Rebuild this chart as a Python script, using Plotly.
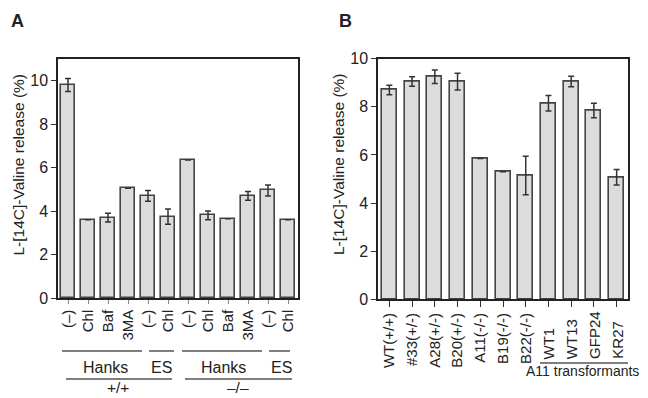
import plotly.graph_objects as go

# page has an 8px body margin; the figure is sized so it ends at the window edge
OFF = 8
W, H = 648 - OFF, 398 - OFF

# ---------------- data ----------------
a_labels = ["(–)", "Chl", "Baf", "3MA", "(–)", "Chl", "(–)", "Chl", "Baf", "3MA", "(–)", "Chl"]
a_values = [9.8, 3.6, 3.7, 5.05, 4.7, 3.75, 6.35, 3.8, 3.65, 4.7, 4.95, 3.6]
a_errors = [0.3, 0, 0.2, 0, 0.25, 0.35, 0, 0.2, 0, 0.2, 0.25, 0]

b_labels = ["WT(+/+)", "#33(+/-)", "A28(+/-)", "B20(+/-)", "A11(-/-)", "B19(-/-)", "B22(-/-)",
            "WT1", "WT13", "GFP24", "KR27"]
b_values = [8.7, 9.05, 9.25, 9.05, 5.85, 5.3, 5.15, 8.15, 9.05, 7.85, 5.07]
b_errors = [0.2, 0.2, 0.28, 0.35, 0, 0, 0.8, 0.32, 0.22, 0.3, 0.32]
b_transformants = ["WT1", "WT13", "GFP24", "KR27"]

y_title = "L-[14C]-Valine release (%)"

# ---------------- helpers (window pixel -> paper fraction) ----------------
def fx(px):
    return (px - OFF) / W

def fy(py):
    return 1 - (py - OFF) / H

FONT = "Liberation Sans, Arial, sans-serif"
BAR_FILL = "#dcdcdc"
BAR_LINE = "#444444"
TXT = "#222222"

fig = go.Figure()

def err_cfg(errs):
    return dict(type="data", array=errs, visible=True, color="#333333",
                thickness=1.5, width=3)

fig.add_trace(go.Bar(
    x=list(range(len(a_values))), y=a_values, error_y=err_cfg(a_errors),
    width=0.72, marker=dict(color=BAR_FILL, line=dict(color=BAR_LINE, width=1.6)),
    xaxis="x", yaxis="y", showlegend=False))

b_ticktext = [t if t not in b_transformants else "" for t in b_labels]
fig.add_trace(go.Bar(
    x=list(range(len(b_values))), y=b_values, error_y=err_cfg(b_errors),
    width=0.66, marker=dict(color=BAR_FILL, line=dict(color=BAR_LINE, width=1.6)),
    xaxis="x2", yaxis="y2", showlegend=False))

axis_common = dict(showline=True, linecolor="#222222", linewidth=1.5, mirror=True,
                   showgrid=False, zeroline=False, automargin=False)
xfont = dict(family=FONT, size=15, color=TXT)
yfont = dict(family=FONT, size=16, color=TXT)

fig.update_layout(
    width=W, height=H, margin=dict(l=0, r=0, t=0, b=0, autoexpand=False),
    paper_bgcolor="white", plot_bgcolor="white",
    bargap=0,
    xaxis=dict(domain=[fx(58), fx(298)], range=[-0.5, 11.5], anchor="y",
               tickmode="array", tickvals=list(range(len(a_labels))), ticktext=a_labels,
               tickangle=-90, ticks="outside", ticklen=4, tickcolor="#888888",
               tickfont=xfont, **axis_common),
    yaxis=dict(domain=[fy(298), fy(59)], range=[0, 11], anchor="x",
               tickvals=[0, 2, 4, 6, 8, 10], ticks="outside", ticklen=5, tickcolor="#333333",
               tickfont=yfont, **axis_common),
    xaxis2=dict(domain=[fx(378), fx(628)], range=[-0.5, 10.5], anchor="y2",
                tickmode="array", tickvals=list(range(len(b_labels))), ticktext=b_ticktext,
                tickangle=-90, ticks="outside", ticklen=6, tickcolor="#333333",
                tickfont=xfont, **axis_common),
    yaxis2=dict(domain=[fy(299.3), fy(58.7)], range=[0, 10], anchor="x2",
                tickvals=[0, 2, 4, 6, 8, 10], ticks="outside", ticklen=5, tickcolor="#333333",
                tickfont=yfont, **axis_common),
)

ann = []
def add_text(txt, x, y, size, xanchor="center", yanchor="middle", angle=0, xref="paper"):
    ann.append(dict(text=txt, x=x, y=y, xref=xref, yref="paper", textangle=angle,
                    xanchor=xanchor, yanchor=yanchor, showarrow=False,
                    font=dict(family=FONT, size=size, color=TXT)))

# panel labels
add_text("<b>A</b>", fx(17), fy(21), 18)
add_text("<b>B</b>", fx(345), fy(21), 18)
# y titles
add_text(y_title, fx(18), fy(165.5), 15.5, angle=-90)
add_text(y_title, fx(338), fy(165), 15.5, angle=-90)

# group labels panel A
for txt, xc, yc in [("Hanks", 105, 367), ("ES", 161, 367), ("Hanks", 223, 367),
                    ("ES", 281, 367)]:
    add_text(txt, fx(xc), fy(yc), 16)
for txt, xc in [("+/+", 118), ("–/–", 238)]:
    add_text(txt, fx(xc), fy(397.5), 15.5, yanchor="bottom")

# transformant labels panel B (bottom-aligned above the group line)
for i, t in enumerate(b_labels):
    if t in b_transformants:
        add_text(t, i, fy(361), 15, yanchor="bottom", angle=-90, xref="x2")
add_text("A11 transformants", fx(641), fy(371), 14, xanchor="right")
fig.update_layout(annotations=ann)

shapes = []
line_style = dict(color="#555555", width=1.5)
for x0, x1, yy in [(62, 142, 351), (149, 174, 351), (182, 262, 351), (269, 290, 351),
                   (66, 172, 379), (185, 292, 379), (540, 628, 363)]:
    shapes.append(dict(type="line", xref="paper", yref="paper",
                       x0=fx(x0), x1=fx(x1), y0=fy(yy), y1=fy(yy), line=line_style))
fig.update_layout(shapes=shapes)

fig.write_html("out.html")
